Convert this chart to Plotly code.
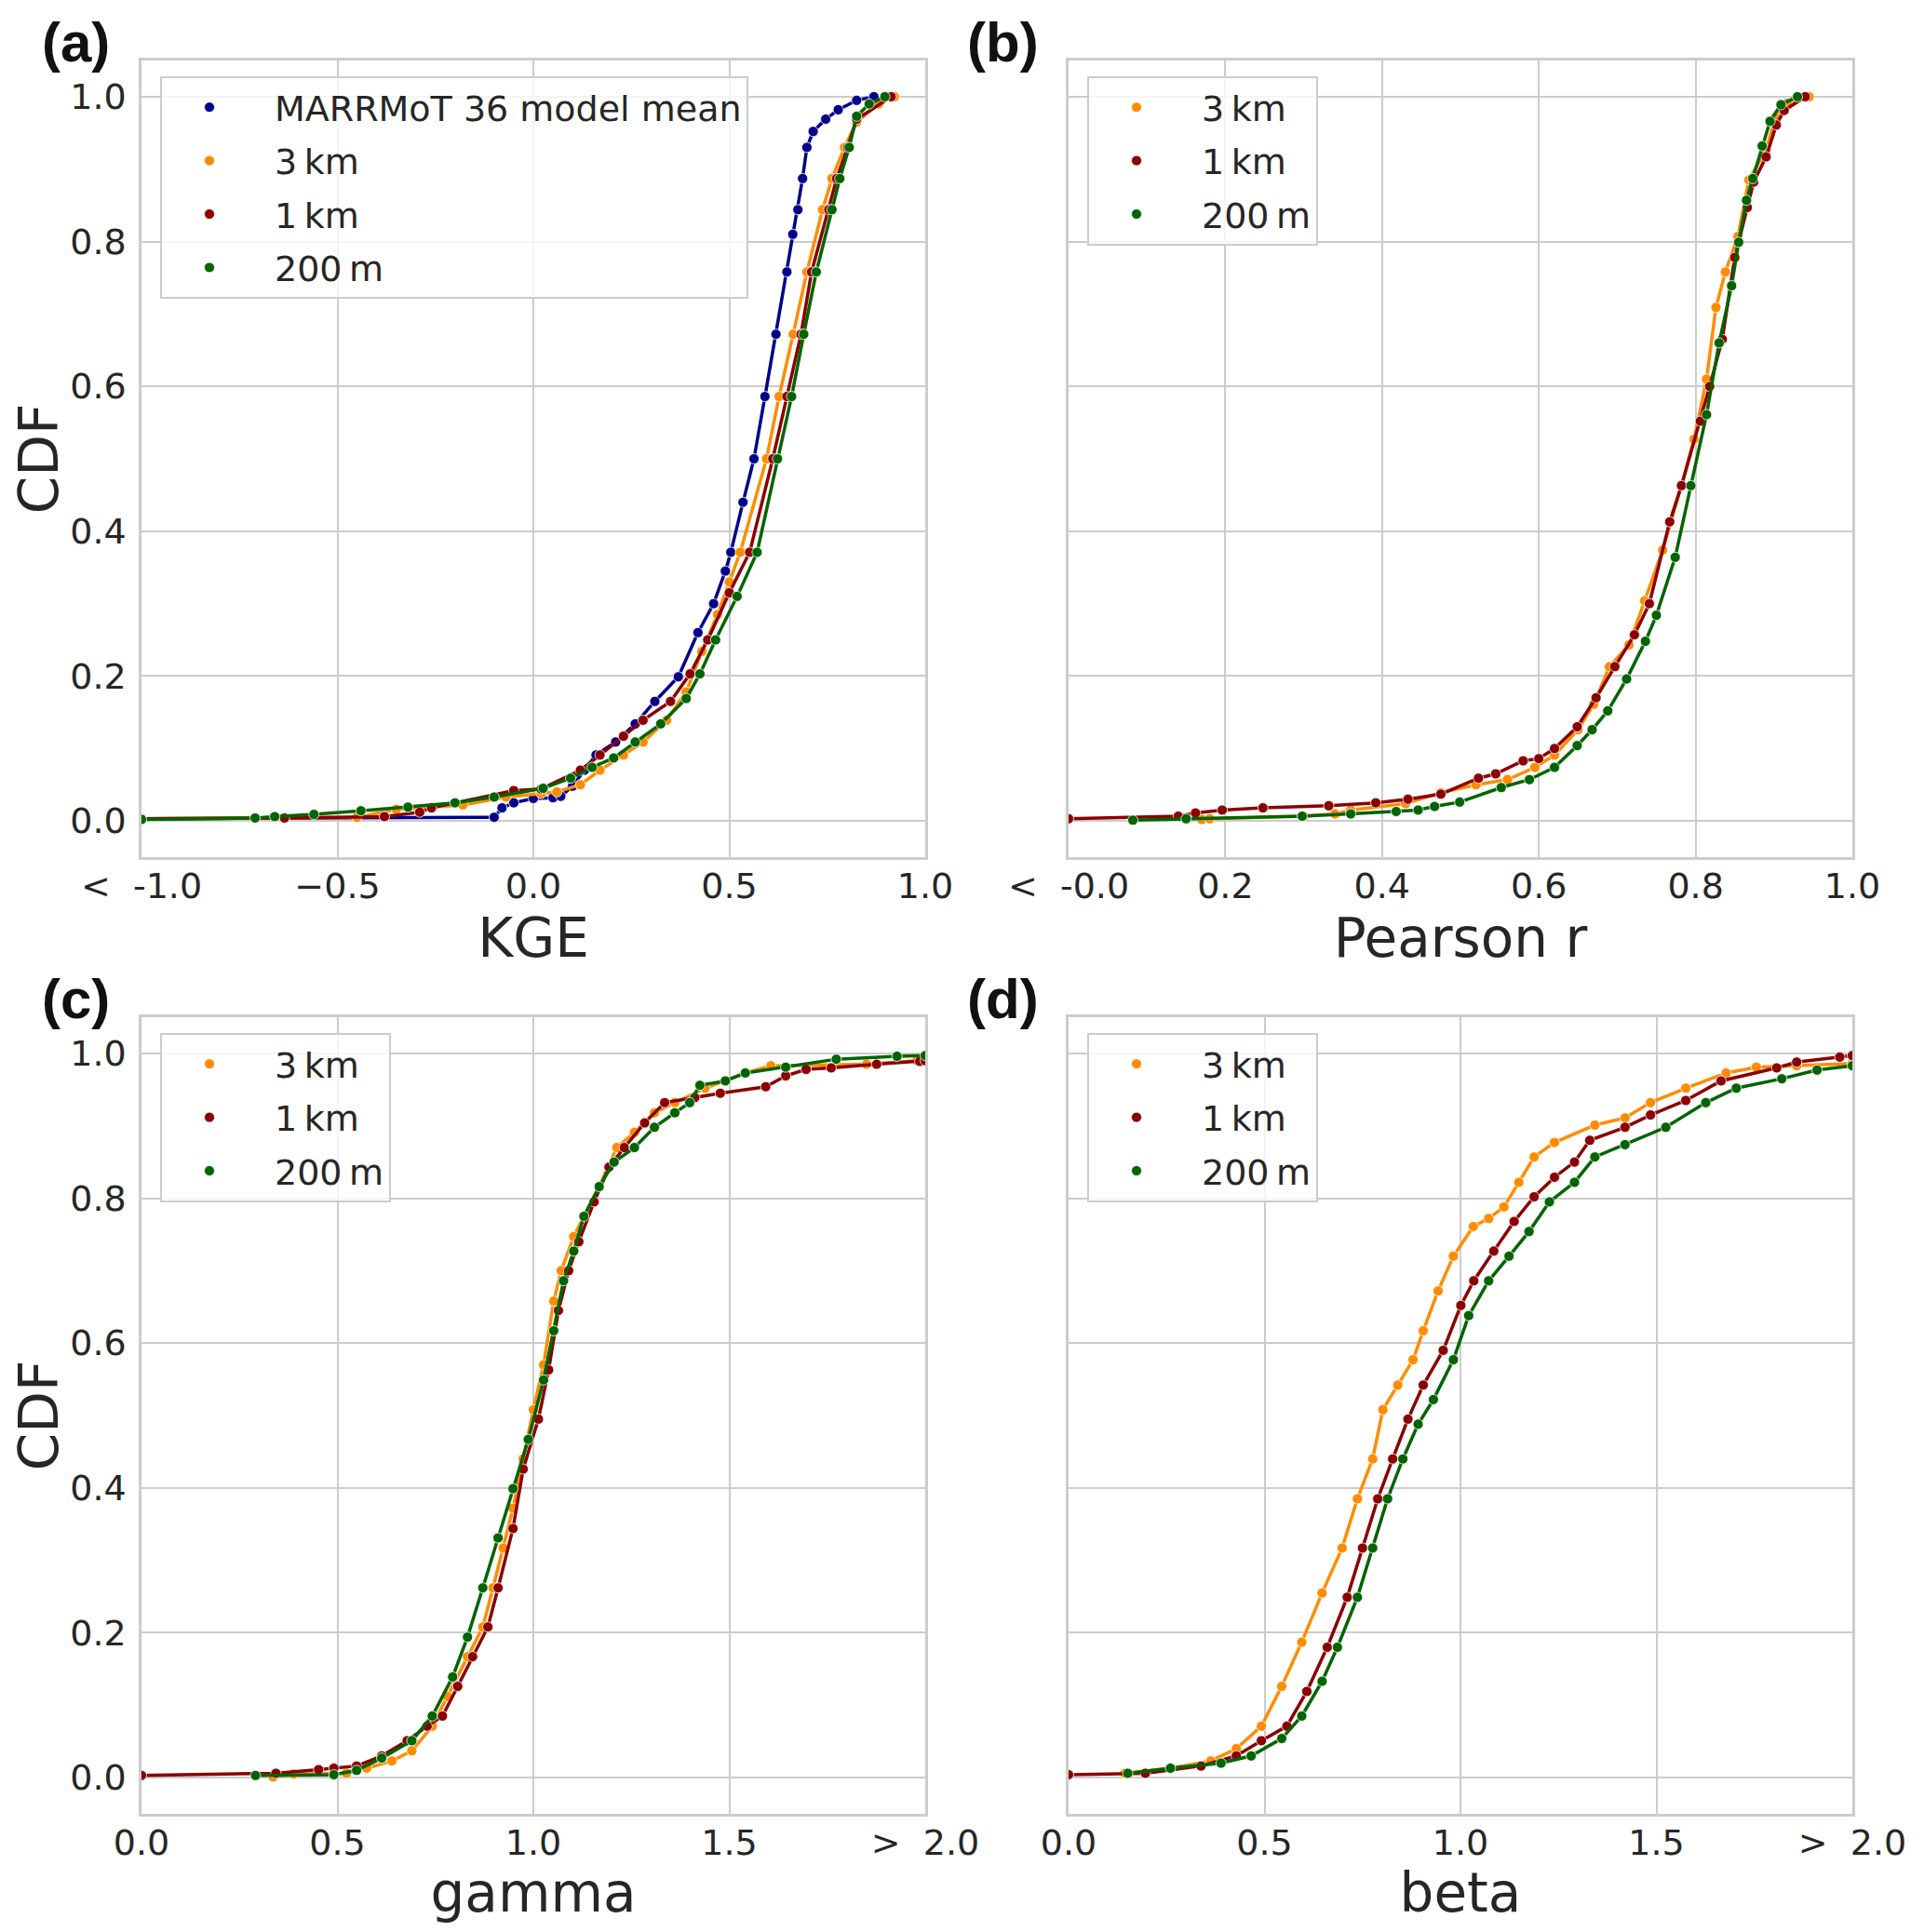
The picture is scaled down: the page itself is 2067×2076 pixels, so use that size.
import plotly.graph_objects as go

# Data (x value, CDF value), per panel and series
# ----------------------------------------------------------------------
series_names = ['MARRMoT 36 model mean', '3\u2009km', '1\u2009km', '200\u2009m']
series_colors = ['#00008b', '#ff8c00', '#8b0000', '#006400']

# (a) KGE, values below -1 are clipped to -1
kge_marrmot_x = [-1.0, -0.10, -0.08, -0.05, 0.0, 0.05, 0.07, 0.10, 0.13, 0.16, 0.21, 0.26, 0.31, 0.37,
                 0.42, 0.46, 0.49, 0.504, 0.535, 0.563, 0.591, 0.619, 0.647, 0.662, 0.675, 0.687, 0.698,
                 0.714, 0.746, 0.778, 0.825, 0.869]
kge_marrmot_cdf = [0.003, 0.005, 0.018, 0.025, 0.031, 0.032, 0.034, 0.048, 0.07, 0.091, 0.109, 0.134, 0.165,
                   0.199, 0.26, 0.30, 0.345, 0.371, 0.44, 0.50, 0.586, 0.672, 0.758, 0.81, 0.844, 0.887, 0.93,
                   0.952, 0.969, 0.982, 0.995, 1.0]
kge_3km_x = [-1.0, -0.45, -0.35, -0.18, -0.07, 0.02, 0.06, 0.12, 0.17, 0.23, 0.28, 0.34, 0.39, 0.43, 0.47,
             0.50, 0.528, 0.595, 0.627, 0.663, 0.698, 0.738, 0.762, 0.794, 0.825, 0.881, 0.921]
kge_3km_cdf = [0.003, 0.005, 0.016, 0.022, 0.033, 0.038, 0.04, 0.05, 0.07, 0.091, 0.109, 0.139, 0.178, 0.234,
               0.285, 0.33, 0.371, 0.50, 0.586, 0.672, 0.758, 0.844, 0.887, 0.93, 0.965, 0.99, 1.0]
kge_1km_x = [-1.0, -0.635, -0.38, -0.29, -0.26, -0.05, 0.02, 0.12, 0.17, 0.23, 0.28, 0.35, 0.40, 0.445, 0.50,
             0.552, 0.611, 0.647, 0.683, 0.71, 0.754, 0.774, 0.802, 0.825, 0.913]
kge_1km_cdf = [0.003, 0.004, 0.006, 0.012, 0.018, 0.042, 0.044, 0.07, 0.091, 0.117, 0.139, 0.165, 0.203,
               0.25, 0.315, 0.371, 0.50, 0.586, 0.672, 0.758, 0.844, 0.887, 0.93, 0.969, 1.0]
kge_200m_x = [-1.0, -0.71, -0.66, -0.56, -0.44, -0.32, -0.20, -0.10, 0.025, 0.095, 0.15, 0.205, 0.26, 0.325,
              0.39, 0.425, 0.465, 0.52, 0.571, 0.623, 0.659, 0.69, 0.722, 0.762, 0.782, 0.806, 0.825, 0.857,
              0.897]
kge_200m_cdf = [0.002, 0.004, 0.006, 0.009, 0.014, 0.019, 0.025, 0.033, 0.045, 0.059, 0.074, 0.087, 0.109,
                0.134, 0.169, 0.203, 0.25, 0.31, 0.371, 0.50, 0.586, 0.672, 0.758, 0.844, 0.887, 0.93, 0.973,
                0.99, 1.0]

# (b) Pearson r, values below 0 are clipped to 0
r_3km_x = [0.17, 0.18, 0.30, 0.34, 0.36, 0.43, 0.475, 0.52, 0.56, 0.595, 0.62, 0.65, 0.67, 0.69, 0.715, 0.735,
           0.758, 0.782, 0.798, 0.814, 0.826, 0.838, 0.854, 0.868, 0.89, 0.902, 0.917, 0.945]
r_3km_cdf = [0.002, 0.003, 0.0065, 0.0096, 0.015, 0.024, 0.039, 0.05, 0.057, 0.074, 0.091, 0.126, 0.161,
             0.213, 0.243, 0.304, 0.374, 0.463, 0.527, 0.61, 0.709, 0.758, 0.807, 0.885, 0.927, 0.971, 0.991,
             1.0]
r_1km_x = [0.0, 0.14, 0.162, 0.196, 0.248, 0.332, 0.392, 0.433, 0.475, 0.523, 0.545, 0.58, 0.60, 0.62, 0.649,
           0.673, 0.697, 0.722, 0.741, 0.767, 0.782, 0.806, 0.818, 0.834, 0.85, 0.866, 0.874, 0.89, 0.903,
           0.913, 0.94]
r_1km_cdf = [0.003, 0.0065, 0.011, 0.015, 0.018, 0.021, 0.025, 0.03, 0.037, 0.059, 0.065, 0.083, 0.086, 0.1,
             0.13, 0.17, 0.213, 0.257, 0.3, 0.413, 0.463, 0.552, 0.6, 0.665, 0.778, 0.847, 0.882, 0.917,
             0.961, 0.981, 1.0]
r_200m_x = [0.082, 0.15, 0.298, 0.36, 0.418, 0.446, 0.467, 0.499, 0.552, 0.588, 0.62, 0.649, 0.668, 0.688,
            0.712, 0.736, 0.75, 0.774, 0.794, 0.814, 0.83, 0.846, 0.855, 0.865, 0.873, 0.885, 0.895, 0.909,
            0.93]
r_200m_cdf = [0.001, 0.003, 0.0065, 0.0096, 0.013, 0.015, 0.02, 0.026, 0.046, 0.057, 0.074, 0.104, 0.126,
              0.152, 0.196, 0.248, 0.284, 0.364, 0.463, 0.561, 0.66, 0.739, 0.799, 0.857, 0.887, 0.932,
              0.966, 0.989, 1.0]

# (c) gamma, values above 2 are clipped to 2
gamma_3km_x = [0.336, 0.388, 0.523, 0.575, 0.639, 0.69, 0.742, 0.781, 0.832, 0.871, 0.897, 0.923, 0.948,
               0.974, 1.0, 1.026, 1.052, 1.071, 1.103, 1.129, 1.168, 1.213, 1.258, 1.309, 1.361, 1.438,
               1.541, 1.606, 1.85, 1.979, 2.0]
gamma_3km_cdf = [0.001, 0.005, 0.006, 0.013, 0.023, 0.037, 0.071, 0.112, 0.167, 0.208, 0.262, 0.317, 0.372,
                 0.44, 0.508, 0.57, 0.658, 0.70, 0.747, 0.775, 0.816, 0.87, 0.891, 0.918, 0.932, 0.952,
                 0.973, 0.983, 0.985, 0.99, 0.992]
gamma_1km_x = [0.0, 0.343, 0.452, 0.491, 0.549, 0.613, 0.678, 0.729, 0.768, 0.807, 0.845, 0.884, 0.91, 0.948,
               0.974, 1.013, 1.039, 1.064, 1.09, 1.116, 1.155, 1.193, 1.232, 1.284, 1.335, 1.412, 1.477,
               1.593, 1.644, 1.696, 1.76, 1.876, 1.986, 2.0]
gamma_1km_cdf = [0.003, 0.006, 0.011, 0.013, 0.016, 0.03, 0.051, 0.071, 0.085, 0.126, 0.167, 0.208, 0.262,
                 0.344, 0.426, 0.495, 0.563, 0.645, 0.70, 0.74, 0.795, 0.843, 0.87, 0.904, 0.932, 0.939,
                 0.945, 0.954, 0.969, 0.978, 0.98, 0.985, 0.989, 0.99]
gamma_200m_x = [0.291, 0.491, 0.549, 0.613, 0.69, 0.742, 0.794, 0.832, 0.871, 0.91, 0.948, 0.987, 1.026,
                1.052, 1.077, 1.103, 1.129, 1.168, 1.206, 1.258, 1.309, 1.361, 1.399, 1.425, 1.49, 1.541,
                1.644, 1.773, 1.928, 2.0]
gamma_200m_cdf = [0.003, 0.004, 0.01, 0.027, 0.051, 0.085, 0.139, 0.194, 0.262, 0.331, 0.399, 0.467, 0.549,
                  0.617, 0.686, 0.727, 0.775, 0.816, 0.85, 0.87, 0.898, 0.918, 0.932, 0.956, 0.962, 0.973,
                  0.981, 0.992, 0.996, 0.997]

# (d) beta, values above 2 are clipped to 2
beta_3km_x = [0.144, 0.26, 0.363, 0.428, 0.492, 0.544, 0.595, 0.647, 0.698, 0.737, 0.776, 0.802, 0.84, 0.879,
              0.905, 0.943, 0.982, 1.033, 1.072, 1.111, 1.149, 1.188, 1.24, 1.343, 1.42, 1.485, 1.575, 1.678,
              1.755, 1.858, 2.0]
beta_3km_cdf = [0.006, 0.013, 0.023, 0.04, 0.071, 0.126, 0.187, 0.255, 0.317, 0.385, 0.44, 0.508, 0.542,
                0.577, 0.617, 0.672, 0.72, 0.761, 0.772, 0.788, 0.822, 0.857, 0.877, 0.901, 0.911, 0.932,
                0.952, 0.973, 0.981, 0.983, 0.986]
beta_1km_x = [0.0, 0.196, 0.338, 0.428, 0.492, 0.557, 0.608, 0.66, 0.711, 0.75, 0.789, 0.827, 0.866, 0.905,
              0.956, 1.001, 1.034, 1.085, 1.137, 1.188, 1.24, 1.291, 1.33, 1.42, 1.485, 1.575, 1.665, 1.807,
              1.858, 1.968, 2.0]
beta_1km_cdf = [0.004, 0.006, 0.016, 0.03, 0.051, 0.071, 0.119, 0.18, 0.249, 0.317, 0.385, 0.44, 0.495,
                0.542, 0.59, 0.652, 0.686, 0.727, 0.768, 0.802, 0.829, 0.85, 0.88, 0.898, 0.915, 0.935,
                0.962, 0.98, 0.988, 0.995, 0.997]
beta_200m_x = [0.151, 0.26, 0.389, 0.466, 0.544, 0.595, 0.647, 0.686, 0.737, 0.776, 0.814, 0.853, 0.892,
               0.931, 0.982, 1.021, 1.072, 1.124, 1.175, 1.227, 1.291, 1.343, 1.42, 1.524, 1.626, 1.704,
               1.82, 1.91, 2.0]
beta_200m_cdf = [0.006, 0.013, 0.02, 0.03, 0.054, 0.085, 0.133, 0.18, 0.249, 0.317, 0.385, 0.44, 0.488,
                 0.522, 0.577, 0.638, 0.686, 0.72, 0.754, 0.795, 0.822, 0.857, 0.874, 0.898, 0.932, 0.952,
                 0.965, 0.977, 0.983]

# Tick labels
kge_ticks = [-1.0, -0.5, 0.0, 0.5, 1.0]
kge_ticktext = ['<  -1.0', '\u22120.5', '0.0', '0.5', '1.0']
r_ticks = [0.0, 0.2, 0.4, 0.6, 0.8, 1.0]
r_ticktext = ['<  -0.0', '0.2', '0.4', '0.6', '0.8', '1.0']
ratio_ticks = [0.0, 0.5, 1.0, 1.5, 2.0]
ratio_ticktext = ['0.0', '0.5', '1.0', '1.5', '>  2.0']
cdf_ticks = [0.0, 0.2, 0.4, 0.6, 0.8, 1.0]
cdf_ticktext = ['0.0', '0.2', '0.4', '0.6', '0.8', '1.0']

# Layout constants
# ----------------
# the page body keeps its default 8px margin, so the figure is drawn 8px in
# from the window corner; positions below are window pixels
PAGE_W, PAGE_H = 2067, 2076
BODY = 8
W, H = PAGE_W - 2 * BODY, PAGE_H - 2 * BODY
FONT = 'DejaVu Sans'
TEXT = '#262626'
GRID = '#cccccc'

col_px = [(152, 994), (1148, 1990)]
row_px = [(65, 921), (1093, 1949)]


def px_x(p):
    return (p - BODY) / W


def px_y(p):
    return 1 - (p - BODY) / H


def xdom(c):
    return [px_x(col_px[c][0]), px_x(col_px[c][1])]


def ydom(r):
    return [px_y(row_px[r][1]), px_y(row_px[r][0])]


panels = [
    # label, col, row, xtitle, xrange, ticks, ticktext, series (idx, x, cdf)
    ('(a)', 0, 0, 'KGE', [-1.0, 1.0], kge_ticks, kge_ticktext,
     [(0, kge_marrmot_x, kge_marrmot_cdf), (1, kge_3km_x, kge_3km_cdf),
      (2, kge_1km_x, kge_1km_cdf), (3, kge_200m_x, kge_200m_cdf)]),
    ('(b)', 1, 0, 'Pearson r', [0.0, 1.0], r_ticks, r_ticktext,
     [(1, r_3km_x, r_3km_cdf), (2, r_1km_x, r_1km_cdf), (3, r_200m_x, r_200m_cdf)]),
    ('(c)', 0, 1, 'gamma', [0.0, 2.0], ratio_ticks, ratio_ticktext,
     [(1, gamma_3km_x, gamma_3km_cdf), (2, gamma_1km_x, gamma_1km_cdf),
      (3, gamma_200m_x, gamma_200m_cdf)]),
    ('(d)', 1, 1, 'beta', [0.0, 2.0], ratio_ticks, ratio_ticktext,
     [(1, beta_3km_x, beta_3km_cdf), (2, beta_1km_x, beta_1km_cdf),
      (3, beta_200m_x, beta_200m_cdf)]),
]

fig = go.Figure()
layout = dict(
    width=W, height=H,
    margin=dict(l=0, r=0, t=0, b=0),
    paper_bgcolor='white', plot_bgcolor='white',
    font=dict(family=FONT, size=38, color=TEXT),
    showlegend=True,
    annotations=[],
)

for i, (label, c, r, xtitle, xrange, ticks, ticktext, series) in enumerate(panels):
    n = '' if i == 0 else str(i + 1)
    xa, ya = 'x' + n, 'y' + n
    leg = 'legend' + n

    for idx, xs, cdf in series:
        fig.add_trace(go.Scatter(
            x=xs, y=cdf, mode='lines', xaxis=xa, yaxis=ya,
            line=dict(color=series_colors[idx], width=3.5),
            showlegend=False, hoverinfo='skip'))
        # en space in front of the name widens the gap between dot and text
        fig.add_trace(go.Scatter(
            x=xs, y=cdf, mode='markers', xaxis=xa, yaxis=ya,
            name='\u2002' + series_names[idx], legend=leg, legendgroup=leg + str(idx),
            marker=dict(color=series_colors[idx], size=11,
                        line=dict(color='white', width=0.8))))

    axis_common = dict(
        showline=True, linecolor=GRID, linewidth=2.5, mirror=True,
        showgrid=True, gridcolor=GRID, gridwidth=2, zeroline=False,
        automargin=False, tickcolor='rgba(0,0,0,0)',
        tickfont=dict(family=FONT, size=38, color=TEXT),
    )
    layout['xaxis' + n] = dict(
        axis_common, domain=xdom(c), anchor=ya, range=xrange,
        ticks='', ticklabelstandoff=-4,
        tickmode='array', tickvals=ticks, ticktext=ticktext,
        title=dict(text=xtitle, font=dict(family=FONT, size=58, color=TEXT), standoff=0),
    )
    layout['yaxis' + n] = dict(
        axis_common, domain=ydom(r), anchor=xa, range=[-0.05, 1.05],
        ticks='outside', ticklen=6,
        tickmode='array', tickvals=cdf_ticks, ticktext=cdf_ticktext,
        showticklabels=(c == 0),
        title=dict(text='CDF' if c == 0 else '', font=dict(family=FONT, size=58, color=TEXT), standoff=0),
    )
    layout[leg] = dict(
        x=px_x(col_px[c][0] + 20), y=px_y(row_px[r][0] + 17),
        xanchor='left', yanchor='top',
        bgcolor='rgba(255,255,255,0.8)', bordercolor=GRID, borderwidth=2,
        font=dict(family=FONT, size=38, color=TEXT),
        itemwidth=92, tracegroupgap=5, traceorder='grouped',
    )
    layout['annotations'].append(dict(
        text='<b>%s</b>' % label, xref='paper', yref='paper',
        x=px_x(col_px[c][0] - 71), y=px_y(row_px[r][0] - 20),
        xanchor='center', yanchor='middle', showarrow=False,
        font=dict(family='Liberation Sans', size=60, color='#111111'),
    ))

fig.update_layout(layout)
fig.write_html("out.html")
